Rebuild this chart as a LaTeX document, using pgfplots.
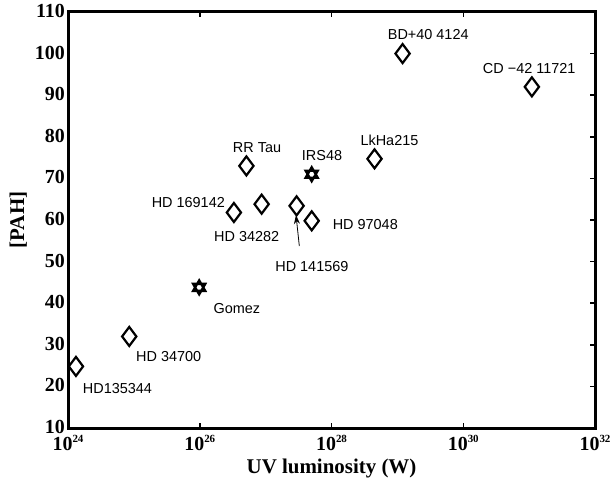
\documentclass[border=0pt]{standalone}
\usepackage{pgfplots}
\pgfplotsset{compat=1.18}
\usepackage{fontspec}
\setmainfont{Liberation Serif}
\newfontfamily\helv{Liberation Sans}
\usetikzlibrary{arrows.meta}
\pgfdeclareplotmark{hexagram}{%
  \pgfpathmoveto{\pgfqpointpolar{90}{\pgfplotmarksize}}%
  \pgfpathlineto{\pgfqpointpolar{210}{\pgfplotmarksize}}%
  \pgfpathlineto{\pgfqpointpolar{330}{\pgfplotmarksize}}%
  \pgfpathclose
  \pgfpathmoveto{\pgfqpointpolar{270}{\pgfplotmarksize}}%
  \pgfpathlineto{\pgfqpointpolar{30}{\pgfplotmarksize}}%
  \pgfpathlineto{\pgfqpointpolar{150}{\pgfplotmarksize}}%
  \pgfpathclose
  \pgfusepathqstroke}
\newcommand{\tp}[1]{10\raisebox{8bp}{\fontsize{11}{11}\selectfont #1}}
\newcommand{\lab}{\helv\fontsize{14.5}{14.5}\selectfont}
\begin{document}
\begin{tikzpicture}
\begin{axis}[
  name=ax,
  scale only axis,
  width=527bp, height=416bp,
  xmode=log,
  xmin=1e24, xmax=1e32, ymin=10, ymax=110,
  xtick={1e24,1e26,1e28,1e30,1e32},
  xticklabels={\tp{24},\tp{26},\tp{28},\tp{30},\tp{32}},
  xminorticks=false, yminorticks=false,
  ytick={10,20,...,110},
  ytick pos=right, yticklabel pos=left,
  tick align=inside,
  major tick length=5bp,
  every tick/.style={line width=1.5bp, black},
  axis line style={line width=3bp},
  ticklabel style={font=\fontsize{20}{20}\selectfont\bfseries},
  yticklabel style={inner sep=0.5bp, xshift=-2.5bp, yshift=1bp},
  xticklabel style={yshift=-5.5bp, inner sep=2bp},
  /pgf/number format/assume math mode=true,
  xlabel={UV luminosity (W)},
  ylabel={[PAH]},
  label style={font=\fontsize{21}{21}\selectfont\bfseries},
  xlabel style={at={(axis description cs:0.5,-0.1095)}, anchor=base, inner sep=1bp},
  ylabel style={at={(axis description cs:-0.0835,0.5)}, anchor=base},
  clip=false,
]
\addplot[only marks, mark=diamond, mark size=9.5bp, mark options={line width=2.2bp, solid, black, miter limit=4}]
coordinates {
  (1.32e24, 24.8)
  (8.5e24, 32.0)
  (3.3e26, 61.8)
  (5.1e26, 73.0)
  (8.7e26, 63.8)
  (2.95e27, 63.4)
  (5.0e27, 59.8)
  (4.5e28, 74.7)
  (1.2e29, 100.0)
  (1.1e31, 92.0)
};
\addplot[only marks, mark=hexagram, mark size=7bp, mark options={line width=2.3bp, solid, black}]
coordinates {
  (9.8e25, 43.8)
  (5.0e27, 71.0)
};
\node[anchor=west, inner sep=0] at (rel axis cs:0.3125,0.673) {\lab RR Tau};
\node[anchor=west, inner sep=0] at (rel axis cs:0.4435,0.654) {\lab IRS48};
\node[anchor=west, inner sep=0] at (rel axis cs:0.277,0.460) {\lab HD 34282};
\node[anchor=west, inner sep=0] at (rel axis cs:0.502,0.488) {\lab HD 97048};
\node[anchor=west, inner sep=0] at (rel axis cs:0.393,0.388) {\lab HD 141569};
\node[anchor=east, inner sep=0] at (rel axis cs:0.298,0.5416) {\lab HD 169142};
\node[anchor=west, inner sep=0] at (rel axis cs:0.5547,0.692) {\lab LkHa215};
\node[anchor=west, inner sep=0] at (rel axis cs:0.6066,0.946) {\lab BD+40 4124};
\node[anchor=west, inner sep=0] at (rel axis cs:0.787,0.865) {\lab CD −42 11721};
\node[anchor=west, inner sep=0] at (rel axis cs:0.2757,0.288) {\lab Gomez};
\node[anchor=west, inner sep=0] at (rel axis cs:0.129,0.171) {\lab HD 34700};
\node[anchor=west, inner sep=0] at (rel axis cs:0.0279,0.09375) {\lab HD135344};
\draw[line width=0.8bp, -{Stealth[length=9bp,width=6bp]}] (rel axis cs:0.4389,0.4375) -- (rel axis cs:0.4326,0.512);
\end{axis}
\pgfresetboundingbox
\path ([xshift=-68bp,yshift=-55bp]ax.south west) rectangle ([xshift=17bp,yshift=12bp]ax.north east);
\end{tikzpicture}
\end{document}
